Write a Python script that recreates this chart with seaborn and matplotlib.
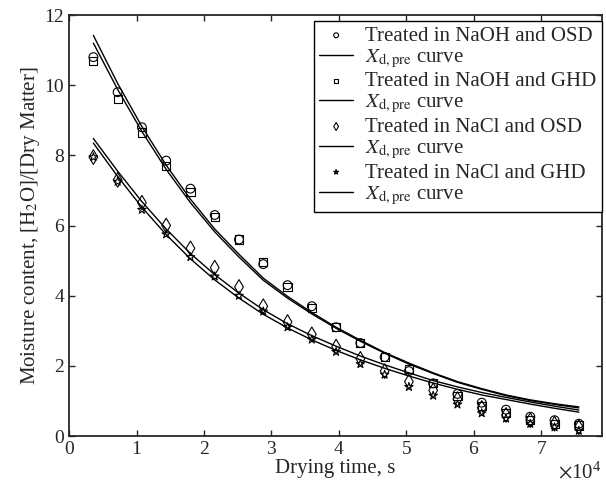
import numpy as np
import pandas as pd
import matplotlib
matplotlib.use('Agg')
import matplotlib.pyplot as plt
import seaborn as sns

# Drying time, s (one sample per hour)
time_s = [3600, 7200, 10800, 14400, 18000, 21600, 25200, 28800, 32400, 36000, 39600,
          43200, 46800, 50400, 54000, 57600, 61200, 64800, 68400, 72000, 75600]

# Measured moisture content
naoh_osd = [10.8, 9.8, 8.8, 7.85, 7.05, 6.3, 5.6, 4.9, 4.3, 3.7, 3.1,
            2.65, 2.25, 1.85, 1.5, 1.2, 0.95, 0.75, 0.55, 0.45, 0.35]
naoh_ghd = [10.7, 9.6, 8.65, 7.7, 6.95, 6.25, 5.6, 4.95, 4.25, 3.65, 3.1,
            2.65, 2.25, 1.9, 1.5, 1.15, 0.85, 0.65, 0.45, 0.35, 0.3]
nacl_osd = [7.95, 7.3, 6.65, 6.0, 5.35, 4.8, 4.25, 3.7, 3.25, 2.9, 2.55,
            2.2, 1.85, 1.55, 1.3, 1.05, 0.8, 0.6, 0.45, 0.35, 0.25]
nacl_ghd = [7.95, 7.25, 6.45, 5.75, 5.1, 4.55, 4.0, 3.55, 3.1, 2.75, 2.4,
            2.05, 1.75, 1.4, 1.15, 0.9, 0.65, 0.5, 0.35, 0.25, 0.15]

# Predicted curves (X_d,pre)
pre_naoh_osd = [11.42, 10.05, 8.82, 7.72, 6.75, 5.9, 5.18, 4.5, 3.98, 3.52, 3.1,
                2.73, 2.38, 2.08, 1.8, 1.55, 1.35, 1.17, 1.03, 0.92, 0.83]
pre_naoh_ghd = [11.2, 9.88, 8.68, 7.6, 6.65, 5.82, 5.1, 4.44, 3.93, 3.48, 3.07,
                2.7, 2.36, 2.05, 1.78, 1.53, 1.33, 1.15, 1.01, 0.9, 0.8]
pre_nacl_osd = [8.48, 7.55, 6.68, 5.9, 5.2, 4.6, 4.07, 3.6, 3.2, 2.86, 2.56,
                2.28, 2.03, 1.8, 1.58, 1.4, 1.24, 1.1, 0.97, 0.85, 0.74]
pre_nacl_ghd = [8.35, 7.4, 6.52, 5.74, 5.05, 4.45, 3.93, 3.47, 3.08, 2.74, 2.44,
                2.17, 1.93, 1.71, 1.51, 1.33, 1.17, 1.04, 0.91, 0.79, 0.68]

labels = ['Treated in NaOH and OSD', 'Treated in NaOH and GHD',
          'Treated in NaCl and OSD', 'Treated in NaCl and GHD']
markers = ['o', 's', 'd', '*']
sizes = [40, 34, 55, 40]
measured = [naoh_osd, naoh_ghd, nacl_osd, nacl_ghd]
predicted = [pre_naoh_osd, pre_naoh_ghd, pre_nacl_osd, pre_nacl_ghd]

sns.set_style('ticks')
plt.rcParams['font.family'] = ['Liberation Serif', 'DejaVu Serif']
plt.rcParams['mathtext.fontset'] = 'stix'
plt.rcParams['font.size'] = 14
plt.rcParams['xtick.direction'] = 'in'
plt.rcParams['ytick.direction'] = 'in'

fig = plt.figure(figsize=(6.06, 4.94), dpi=100)
ax = fig.add_axes([0.114, 0.1174, 0.879, 0.8522])

for lab, mk, sz, meas, pre in zip(labels, markers, sizes, measured, predicted):
    df = pd.DataFrame({'t': time_s, 'x': meas, 'p': pre})
    sns.scatterplot(data=df, x='t', y='x', marker=mk, s=sz, facecolor='none',
                    edgecolor='black', linewidth=0.8, ax=ax, label=lab, zorder=3)
    sns.lineplot(data=df, x='t', y='p', color='black', linewidth=1.0, ax=ax,
                 label=r'$X_{\mathrm{d,pre}}$ curve')

ax.set_xlim(0, 79000)
ax.set_ylim(0, 12)
ax.set_xticks(np.arange(0, 80000, 10000))
ax.set_yticks(np.arange(0, 13, 2))
ax.ticklabel_format(style='sci', axis='x', scilimits=(4, 4), useMathText=True)
ax.xaxis.get_offset_text().set_fontsize(15)
ax.tick_params(top=True, right=True, length=4, width=1, labelsize=14)
for sp in ax.spines.values():
    sp.set_linewidth(1.3)

ax.set_xlabel('Drying time, s', fontsize=15, labelpad=1)
ax.set_ylabel(r'Moisture content, [H$_2$O]/[Dry Matter]', fontsize=15, labelpad=2)

leg = ax.legend(loc='upper right', bbox_to_anchor=(1.0, 0.986), frameon=True,
                fancybox=False, edgecolor='black', fontsize=15, handlelength=1.6,
                handletextpad=0.6, labelspacing=0.09, borderpad=0.25,
                borderaxespad=0.0, markerscale=0.55)
leg.get_frame().set_linewidth(1.0)
leg.get_frame().set_alpha(1)

fig.savefig('out.png', dpi=100)
plt.close(fig)
